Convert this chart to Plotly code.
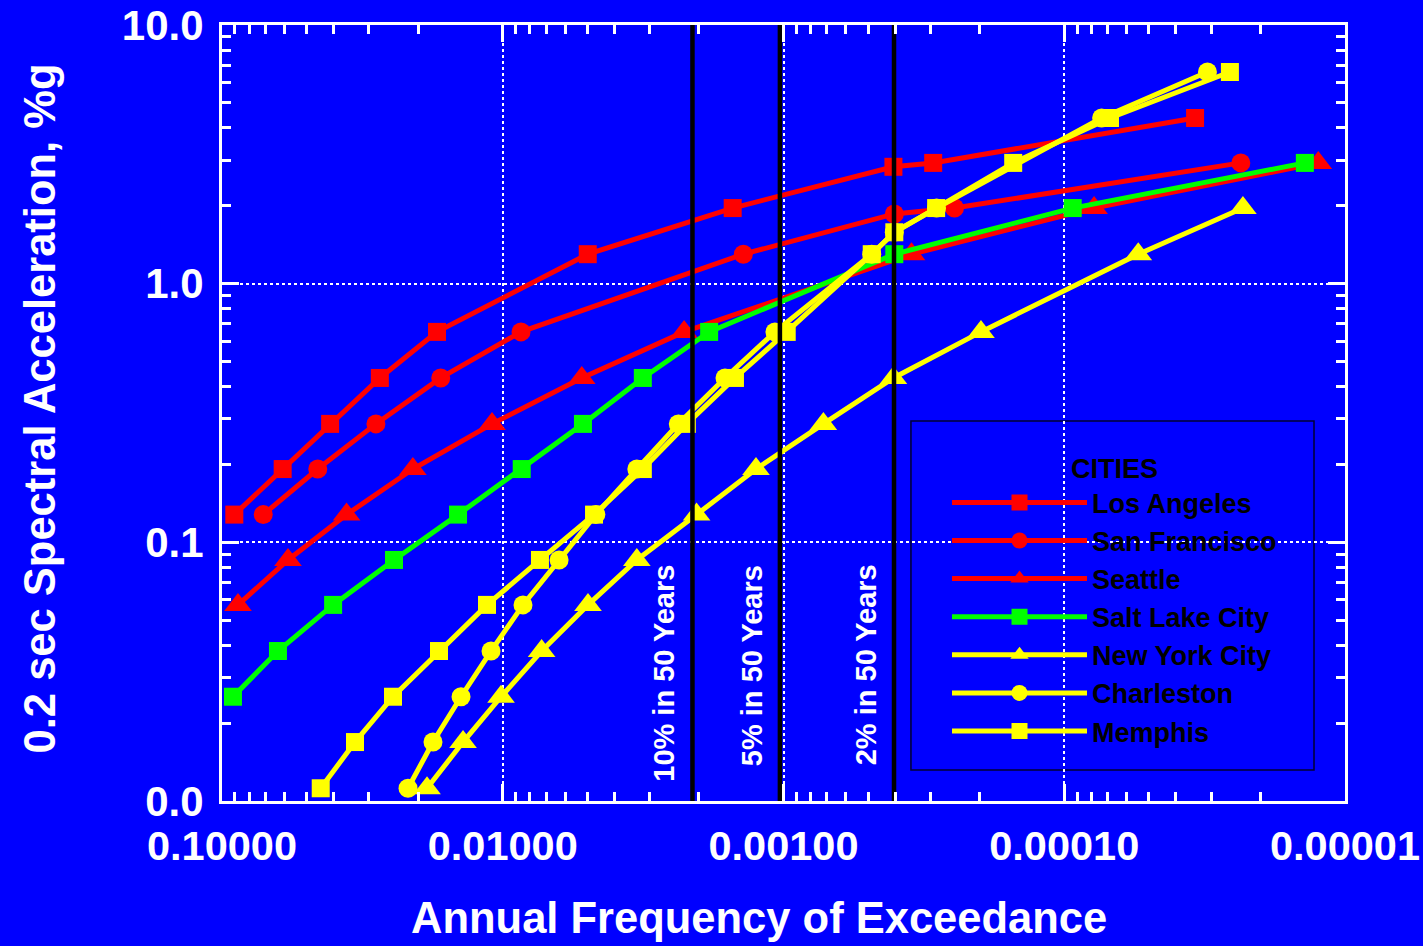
import numpy as np
import plotly.graph_objects as go

# ---------------- data ----------------
cities = ["Los Angeles", "San Francisco", "Seattle", "Salt Lake City",
          "New York City", "Charleston", "Memphis"]

la_freq = [0.0904, 0.0608, 0.0412, 0.0274, 0.01715, 0.00498, 0.001517, 0.000406, 0.000293, 0.0000342]
la_acc = [0.128, 0.192, 0.287, 0.432, 0.651, 1.30, 1.96, 2.83, 2.93, 4.37]

sf_freq = [0.0713, 0.0456, 0.0283, 0.01663, 0.00861, 0.00139, 0.000403, 0.000246, 0.0000235]
sf_acc = [0.128, 0.192, 0.287, 0.432, 0.651, 1.30, 1.86, 1.96, 2.93]

sea_freq = [0.0877, 0.0582, 0.0360, 0.0209, 0.01092, 0.00523, 0.00226, 0.000350, 0.0000783, 0.00001245]
sea_acc = [0.0573, 0.0855, 0.128, 0.192, 0.287, 0.432, 0.651, 1.30, 1.96, 2.93]

slc_freq = [0.0914, 0.0632, 0.0402, 0.0244, 0.01443, 0.00856, 0.00518, 0.00317, 0.00184,
            0.000403, 0.0000933, 0.0000139]
slc_acc = [0.0253, 0.038, 0.0573, 0.0855, 0.128, 0.192, 0.287, 0.432, 0.651, 1.30, 1.96, 2.93]

nyc_freq = [0.01861, 0.01385, 0.01014, 0.00727, 0.00497, 0.00333, 0.00204, 0.001253, 0.000721,
            0.000406, 0.000198, 0.0000545, 0.0000231]
nyc_acc = [0.0112, 0.0169, 0.0253, 0.038, 0.0573, 0.0855, 0.128, 0.192, 0.287, 0.432, 0.651, 1.30, 1.96]

chs_freq = [0.02175, 0.01772, 0.01408, 0.01101, 0.00847, 0.0063, 0.00466, 0.00333, 0.00237,
            0.001616, 0.001073, 0.000485, 0.000403, 0.000285, 0.0000736, 0.0000309]
chs_acc = [0.0112, 0.0169, 0.0253, 0.038, 0.0573, 0.0855, 0.128, 0.192, 0.287, 0.432, 0.651,
           1.30, 1.58, 1.96, 4.37, 6.58]

mem_freq = [0.0445, 0.0336, 0.0246, 0.01687, 0.01138, 0.00737, 0.00473, 0.00317, 0.00221,
            0.001489, 0.000974, 0.000485, 0.000403, 0.000286, 0.000152, 0.0000687, 0.0000257]
mem_acc = [0.0112, 0.0169, 0.0253, 0.038, 0.0573, 0.0855, 0.128, 0.192, 0.287, 0.432, 0.651,
           1.30, 1.58, 1.96, 2.93, 4.37, 6.58]

# probability-of-exceedance reference lines (annual frequency)
pe_labels = ["10% in 50 Years", "5% in 50 Years", "2% in 50 Years"]
pe_freq = [0.00211, 0.00103, 0.000404]

x_tickvals = [0.1, 0.01, 0.001, 0.0001, 0.00001]
x_ticktext = ["0.10000", "0.01000", "0.00100", "0.00010", "0.00001"]
y_tickvals = [0.01, 0.1, 1, 10]
y_ticktext = ["0.0", "0.1", "1.0", "10.0"]

# ---------------- styling ----------------
BLUE = "#0000FF"
FONT = "Liberation Sans, Arial, Helvetica, sans-serif"

series = [
    (la_freq, la_acc, "#FF0000", "square"),
    (sf_freq, sf_acc, "#FF0000", "circle"),
    (sea_freq, sea_acc, "#FF0000", "triangle-up"),
    (slc_freq, slc_acc, "#00FF00", "square"),
    (nyc_freq, nyc_acc, "#FFFF00", "triangle-up"),
    (chs_freq, chs_acc, "#FFFF00", "circle"),
    (mem_freq, mem_acc, "#FFFF00", "square"),
]
marker_size = {"square": 18, "circle": 19, "triangle-up": 24}

fig = go.Figure()
for name, (fx, fy, col, sym) in zip(cities, series):
    fig.add_trace(go.Scatter(
        x=fx, y=fy, name=name, mode="lines+markers",
        line=dict(color=col, width=5),
        marker=dict(color=col, symbol=sym, size=marker_size[sym], line=dict(width=0)),
        cliponaxis=False,
    ))

for f in pe_freq:
    fig.add_trace(go.Scatter(
        x=[f, f], y=[y_tickvals[0], y_tickvals[-1]], mode="lines",
        line=dict(color="black", width=4.5), showlegend=False, hoverinfo="skip",
    ))

annotations = []
for lab, f in zip(pe_labels, pe_freq):
    annotations.append(dict(
        x=np.log10(f), xref="x", y=0.307, yref="paper",
        text=lab, textangle=-90, showarrow=False,
        xanchor="center", yanchor="top", xshift=-28,
        font=dict(family=FONT, size=29, color="white", weight="bold"),
    ))

annotations.append(dict(
    x=0.478, y=-0.151, xref="paper", yref="paper", showarrow=False,
    text="Annual Frequency of Exceedance", xanchor="center", yanchor="middle",
    font=dict(family=FONT, size=43.5, color="white", weight="bold"),
))
annotations.append(dict(
    x=-0.162, y=0.506, xref="paper", yref="paper", showarrow=False,
    text="0.2 sec Spectral Acceleration, %g", textangle=-90,
    xanchor="center", yanchor="middle",
    font=dict(family=FONT, size=43.5, color="white", weight="bold"),
))

x_minor = [m * 10.0 ** e for e in range(-5, -1) for m in range(2, 10)]
y_minor = [m * 10.0 ** e for e in range(-2, 1) for m in range(2, 10)]

axis_common = dict(
    type="log", showline=True, linecolor="white", linewidth=3, mirror="allticks",
    ticks="inside", ticklen=17, tickwidth=3, tickcolor="white",
    showgrid=True, gridcolor="white", gridwidth=2, griddash="dot",
    zeroline=False, tickmode="array", automargin=False, ticklabeloverflow="allow",
)

fig.update_layout(
    width=1423, height=946,
    margin=dict(l=222, r=78, t=25, b=145, autoexpand=False),
    paper_bgcolor=BLUE, plot_bgcolor=BLUE,
    xaxis=dict(**axis_common, range=[-1, -5], tickvals=x_tickvals, ticktext=x_ticktext,
               ticklabelstandoff=6,
               tickfont=dict(family=FONT, size=41.5, color="white", weight="bold"),
               minor=dict(tickmode="array", tickvals=x_minor, ticks="inside", ticklen=9,
                          tickwidth=3, tickcolor="white", showgrid=False)),
    yaxis=dict(**axis_common, range=[-2, 1], tickvals=y_tickvals, ticktext=y_ticktext,
               ticklabelstandoff=7,
               tickfont=dict(family=FONT, size=42, color="white", weight="bold"),
               minor=dict(tickmode="array", tickvals=y_minor, ticks="inside", ticklen=9,
                          tickwidth=3, tickcolor="white", showgrid=False)),
    showlegend=True,
    legend=dict(
        x=0.6456, y=0.461, xanchor="left", yanchor="top",
        bgcolor="rgba(0,0,0,0)", borderwidth=0,
        itemwidth=135, itemclick=False,
        font=dict(family=FONT, size=27, color="black", weight="bold"),
        title=dict(text="CITIES", side="top center",
                   font=dict(family=FONT, size=27, color="black", weight="bold")),
    ),
    shapes=[dict(type="rect", xref="paper", yref="paper",
                 x0=0.6135, x1=0.9724, y0=0.04, y1=0.4897,
                 line=dict(color="#000033", width=1.5), fillcolor="rgba(0,0,0,0)",
                 layer="below")],
    annotations=annotations,
)

fig.write_html("out.html", config={"displayModeBar": False},
               post_script="document.body.style.margin='0';document.body.style.overflow='hidden';")
